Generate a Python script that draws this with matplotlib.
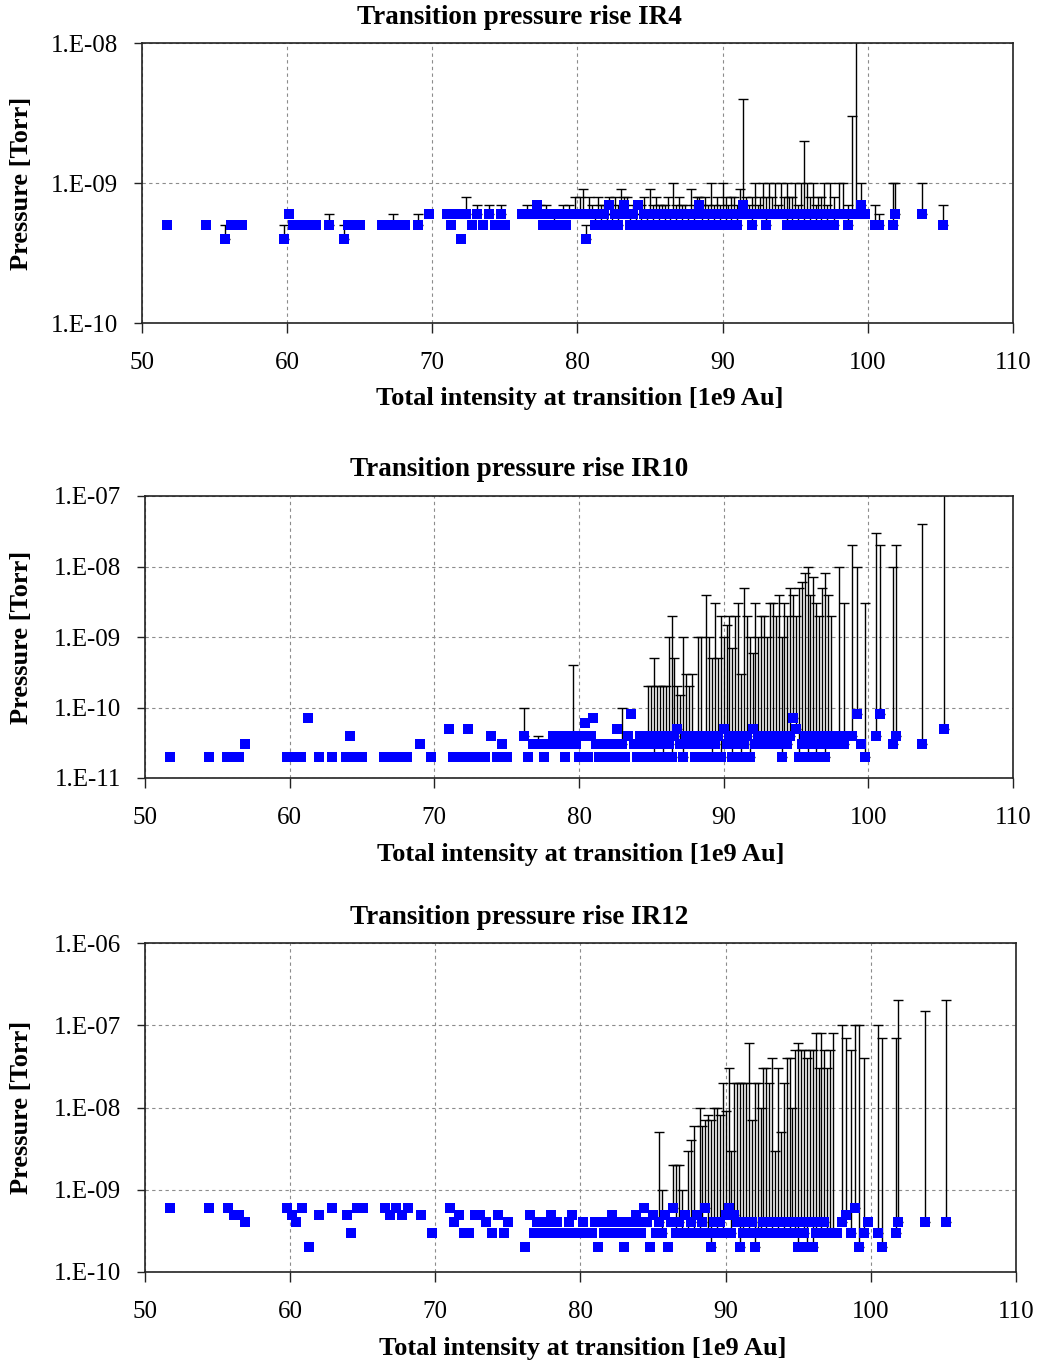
import numpy as np
import matplotlib
matplotlib.use('Agg')
import matplotlib.pyplot as plt
from matplotlib.ticker import FixedLocator, FuncFormatter, NullLocator

plt.rcParams['font.family'] = ['Liberation Serif', 'DejaVu Serif']

# total intensity at transition [1e9 Au], shared by the three rings
intensity = [
    51.7, 54.4, 55.7, 56.1, 56.5, 56.9, 59.8, 60.1, 60.4, 60.8,
    61.3, 62.0, 62.9, 63.9, 64.2, 64.6, 65.0, 66.5, 66.9, 67.3,
    67.7, 68.1, 69.0, 69.8, 71.0, 71.3, 71.6, 72.0, 72.3, 72.7,
    73.1, 73.5, 73.9, 74.3, 74.7, 75.0, 76.2, 76.5, 76.8,
    77.0, 77.2, 77.4, 77.6, 77.8, 78.0, 78.2, 78.4, 78.6, 78.8,
    79.0, 79.2, 79.4, 79.6, 79.8, 80.0, 80.2, 80.4, 80.6, 80.8,
    81.0, 81.2, 81.4, 81.6, 81.8, 82.0, 82.2, 82.4, 82.6, 82.8,
    83.0, 83.2, 83.4, 83.6, 83.8, 84.0, 84.2, 84.4, 84.6, 84.8,
    85.0, 85.2, 85.4, 85.6, 85.8, 86.0, 86.2, 86.4, 86.6, 86.8,
    87.0, 87.2, 87.4, 87.6, 87.8, 88.0, 88.2, 88.4, 88.6, 88.8,
    89.0, 89.2, 89.4, 89.6, 89.8, 90.0, 90.2, 90.4, 90.6, 90.8,
    91.0, 91.2, 91.4, 91.6, 91.8, 92.0, 92.2, 92.4, 92.6, 92.8,
    93.0, 93.2, 93.4, 93.6, 93.8, 94.0, 94.2, 94.4, 94.6, 94.8,
    95.0, 95.2, 95.4, 95.6, 95.8, 96.0, 96.2, 96.4, 96.6, 96.8,
    97.0, 97.2, 97.4,
    97.7, 98.0, 98.3, 98.6, 98.9, 99.2, 99.5, 99.8, 100.5, 100.8,
    101.7, 101.9, 103.7, 105.2,
]

# IR4 pressure and upper error limit, in 1e-10 Torr
ir4_p = [
    5, 5, 4, 5, 5, 5, 4, 6, 5, 5, 5, 5, 5, 4, 5, 5, 5, 5, 5, 5,
    5, 5, 5, 6, 6, 5, 6, 4, 6, 5, 6, 5, 6, 5, 6, 5, 6, 6, 6,
    6, 7, 6, 5, 6, 5, 6, 5, 6, 5, 6, 5, 6, 6, 6, 6, 6, 6, 4, 6,
    6, 5, 6, 5, 6, 5, 7, 5, 6, 5, 6, 7, 6, 5, 6, 5, 7, 5, 6, 5,
    6, 5, 6, 5, 6, 5, 6, 5, 6, 5, 6, 5, 6, 5, 6, 5, 6, 7, 5, 6,
    5, 6, 5, 6, 5, 6, 5, 6, 5, 6, 5, 6, 7, 6, 6, 5, 6, 6, 6, 6,
    5, 6, 6, 6, 6, 6, 6, 5, 6, 5, 6, 5, 6, 5, 6, 5, 6, 5, 6, 5,
    6, 5, 6,
    5, 6, 6, 5, 6, 6, 7, 6, 5, 5, 5, 6, 6, 5,
]
ir4_top = [
    5, 5, 5, 5, 5, 5, 5, 6, 5, 5, 5, 5, 6, 5, 5, 5, 5, 5, 5, 6,
    5, 5, 6, 6, 6, 5, 6, 4, 8, 5, 7, 5, 7, 5, 7, 5, 6, 7, 6,
    6, 7, 7, 5, 7, 5, 6, 6, 6, 5, 7, 5, 7, 6, 8, 6, 8, 9, 5, 8,
    7, 6, 8, 7, 7, 6, 8, 6, 8, 7, 9, 8, 8, 6, 7, 6, 7, 7, 8, 6,
    9, 7, 8, 7, 7, 7, 8, 6, 10, 7, 8, 7, 7, 6, 9, 7, 8, 8, 7, 8,
    7, 10, 7, 8, 7, 10, 8, 7, 8, 8, 7, 9, 40, 8, 7, 8, 10, 7, 8, 10,
    8, 10, 8, 10, 7, 10, 8, 10, 8, 8, 10, 7, 10, 20, 10, 8, 10, 7, 8, 8,
    10, 7, 10,
    8, 10, 10, 7, 30, 150, 10, 6, 7, 6, 10, 10, 10, 7,
]

# IR10 pressure and upper error limit, in 1e-11 Torr
ir10_p = [
    2, 2, 2, 2, 2, 3, 2, 2, 2, 2, 7, 2, 2, 2, 4, 2, 2, 2, 2, 2,
    2, 2, 3, 2, 5, 2, 2, 2, 5, 2, 2, 2, 4, 2, 3, 2, 4, 2, 3,
    3, 3, 3, 2, 3, 3, 4, 3, 4, 3, 2, 4, 3, 4, 3, 2, 4, 6, 2, 4,
    7, 3, 2, 3, 2, 3, 2, 3, 5, 2, 3, 2, 4, 8, 3, 2, 4, 3, 2, 4,
    3, 2, 4, 3, 2, 4, 3, 2, 4, 5, 3, 2, 4, 3, 4, 2, 3, 4, 2, 3,
    4, 2, 3, 4, 2, 5, 3, 4, 2, 3, 4, 2, 3, 4, 2, 5, 3, 4, 3, 4,
    3, 4, 3, 4, 3, 2, 4, 3, 4, 7, 5, 2, 3, 4, 2, 3, 4, 2, 3, 4,
    2, 3, 4,
    3, 4, 3, 4, 4, 8, 3, 2, 4, 8, 3, 4, 3, 5,
]
ir10_top = [
    2, 2, 2, 2, 2, 3, 2, 2, 2, 2, 7, 2, 2, 2, 4, 2, 2, 2, 2, 2,
    2, 2, 3, 2, 5, 2, 2, 2, 5, 2, 2, 2, 4, 2, 3, 2, 10, 2, 3,
    3, 4, 3, 2, 3, 3, 4, 3, 4, 3, 2, 4, 3, 40, 3, 2, 4, 6, 2, 4,
    7, 3, 2, 3, 2, 3, 2, 3, 5, 2, 10, 2, 4, 8, 3, 2, 4, 3, 2, 20,
    20, 50, 20, 20, 20, 20, 100, 200, 50, 20, 15, 100, 30, 20, 30, 2, 100, 100, 2, 400,
    100, 50, 300, 50, 200, 100, 150, 200, 70, 200, 300, 30, 500, 200, 100, 60, 300, 100, 200, 200,
    100, 300, 300, 200, 400, 100, 300, 200, 500, 400, 200, 500, 600, 800, 1000, 400, 700, 300, 200, 500,
    800, 400, 200,
    3, 1000, 300, 4, 2000, 1000, 3, 300, 3000, 2000, 1000, 2000, 4000, 20000,
]

# IR12 pressure and upper error limit, in 1e-10 Torr
ir12_p = [
    6, 6, 6, 5, 5, 4, 6, 5, 4, 6, 2, 5, 6, 5, 3, 6, 6, 6, 5, 6,
    5, 6, 5, 3, 6, 4, 5, 3, 3, 5, 5, 4, 3, 5, 3, 4, 2, 5, 3,
    4, 3, 4, 3, 4, 5, 3, 4, 3, 3, 3, 4, 5, 3, 3, 3, 4, 3, 3, 3,
    4, 2, 4, 3, 4, 3, 5, 4, 3, 4, 2, 3, 4, 3, 5, 4, 3, 6, 4, 2,
    5, 3, 4, 3, 5, 2, 4, 6, 3, 4, 3, 5, 3, 4, 3, 5, 3, 4, 6, 3,
    2, 4, 3, 4, 3, 5, 6, 3, 5, 4, 2, 3, 4, 3, 4, 2, 3, 3, 4, 3,
    4, 3, 4, 3, 4, 3, 4, 3, 4, 3, 2, 4, 3, 2, 4, 2, 3, 4, 3, 4,
    3, 3, 3,
    3, 4, 5, 3, 6, 2, 3, 4, 3, 2, 3, 4, 4, 4,
]
ir12_top = [
    6, 6, 6, 5, 5, 4, 6, 5, 4, 6, 2, 5, 6, 5, 3, 6, 6, 6, 5, 6,
    5, 6, 5, 3, 6, 4, 5, 3, 3, 5, 5, 4, 3, 5, 3, 4, 2, 5, 3,
    4, 3, 4, 3, 4, 5, 3, 4, 3, 3, 3, 4, 5, 3, 3, 3, 4, 3, 3, 3,
    4, 2, 4, 3, 4, 3, 5, 4, 3, 4, 2, 3, 4, 3, 5, 4, 3, 6, 4, 2,
    5, 3, 50, 10, 5, 2, 4, 20, 20, 20, 10, 5, 30, 40, 60, 5, 100, 60, 70, 80,
    70, 100, 100, 80, 200, 90, 300, 30, 200, 200, 200, 200, 200, 600, 70, 200, 200, 100, 300, 300,
    200, 400, 30, 300, 50, 200, 400, 400, 100, 500, 600, 500, 500, 400, 500, 500, 800, 300, 800, 500,
    300, 500, 800,
    3, 1000, 700, 500, 1000, 1000, 400, 4, 1000, 700, 700, 2000, 1500, 2000,
]

panels = [
    ('Transition pressure rise IR4', ir4_p, ir4_top, 1e-10, [-10, -9, -8]),
    ('Transition pressure rise IR10', ir10_p, ir10_top, 1e-11, [-11, -10, -9, -8, -7]),
    ('Transition pressure rise IR12', ir12_p, ir12_top, 1e-10, [-10, -9, -8, -7, -6]),
]

W, H = 1040, 1368
fig = plt.figure(figsize=(W / 100, H / 100), dpi=100)

# axes boxes in pixels: left, top, right, bottom
boxes = [(142, 43, 1013, 323), (145, 496, 1013, 778), (145, 943, 1016, 1272)]
title_y = [18, 470, 917]
xlabel_y = [398, 855, 1349]


def fx(px):
    return px / W


def fy(py):
    return 1 - py / H


x = np.array(intensity)
for (title, p, top, unit, decades), (l, t, r, b), ty, ly in zip(panels, boxes, title_y, xlabel_y):
    ax = fig.add_axes([fx(l), fy(b), fx(r) - fx(l), fy(t) - fy(b)])
    y = np.array(p) * unit
    up = np.array(top) * unit
    has = up > y
    ax.errorbar(x[has], y[has], yerr=[np.zeros(has.sum()), (up - y)[has]],
                fmt='none', ecolor='black', elinewidth=1.0, capsize=3.8,
                capthick=1.0, zorder=2)
    ax.plot(x, y, 's', color='#0000ff', markersize=6.6, markeredgewidth=0,
            zorder=3)

    ax.set_yscale('log')
    ax.set_ylim(10.0 ** decades[0], 10.0 ** decades[-1])
    ax.set_xlim(50, 110)
    ax.set_xticks(range(50, 111, 10))
    ax.yaxis.set_major_locator(FixedLocator([10.0 ** d for d in decades]))
    ax.yaxis.set_minor_locator(NullLocator())
    ax.yaxis.set_major_formatter(
        FuncFormatter(lambda v, pos: '1.E-%02d' % round(-np.log10(v))))
    ax.grid(True, color='#8c8c8c', linestyle=(0, (3, 3)), linewidth=0.8)
    ax.set_axisbelow(True)
    for s in ax.spines.values():
        s.set_color('#222222')
        s.set_linewidth(1.2)
    ax.tick_params(axis='x', direction='out', length=7, width=1, pad=14,
                   labelsize=18, colors='#222222', labelcolor='black')
    ax.tick_params(axis='y', direction='out', length=6, width=1, pad=11,
                   labelsize=18, colors='#222222', labelcolor='black')

    fig.text(fx(519), fy(ty), title, ha='center', va='center',
             fontsize=19.5, fontweight='bold')
    fig.text(fx((l + r) / 2 + 2), fy(ly), 'Total intensity at transition [1e9 Au]',
             ha='center', va='center', fontsize=19, fontweight='bold')
    fig.text(fx(22), fy((t + b) / 2), 'Pressure [Torr]', rotation=90,
             ha='center', va='center', fontsize=19, fontweight='bold')

fig.savefig('out.png', dpi=100)
